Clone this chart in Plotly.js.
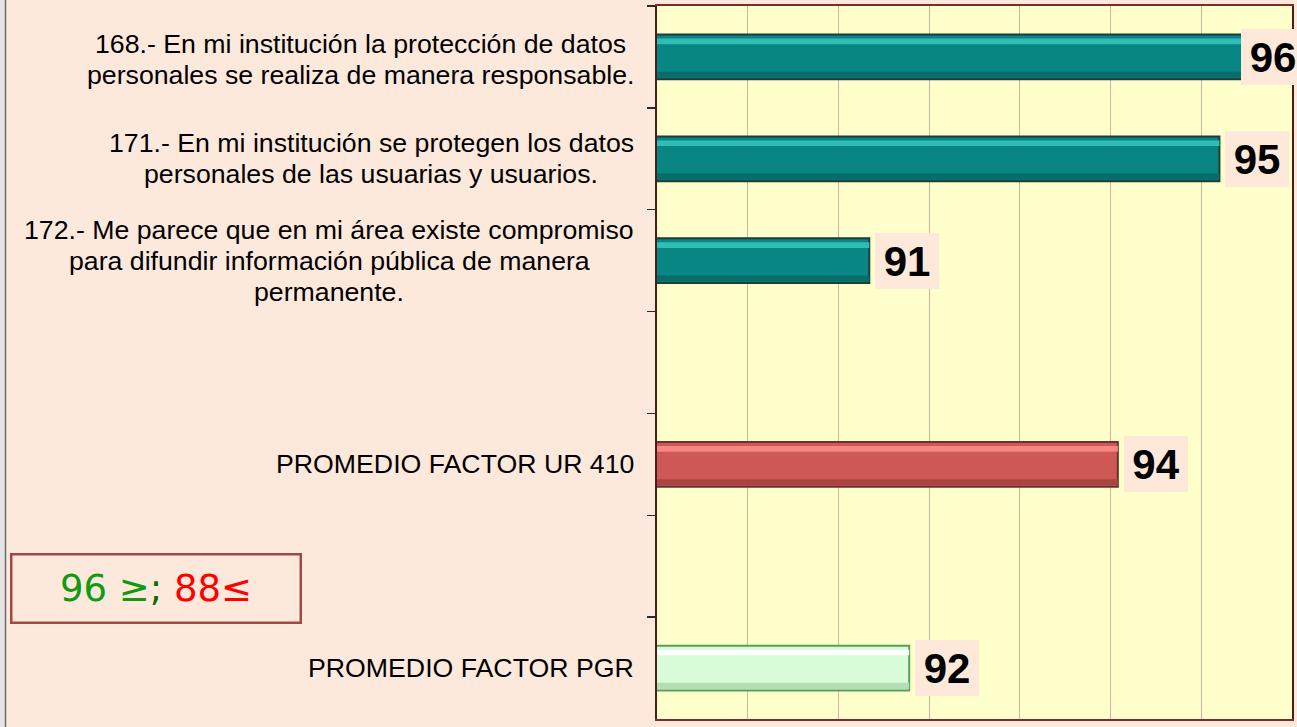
<!DOCTYPE html>
<html>
<head>
<meta charset="utf-8">
<script src="https://cdn.plot.ly/plotly-3.0.1.min.js"></script>
<style>
  html, body { margin: 0; padding: 0; background: #fde9dc; }
  #chart { width: 1297px; height: 727px; }
</style>
</head>
<body>
<div id="chart"></div>
<script>
// ---------------- data ----------------
const categories = [
  "168.- En mi institución la protección de datos<br>personales se realiza de manera responsable.",
  "171.- En mi institución se protegen los datos<br>personales de las usuarias y usuarios.",
  "172.- Me parece que en mi área existe compromiso<br>para difundir información pública de manera<br>permanente.",
  " ",
  "PROMEDIO FACTOR UR 410",
  "  ",
  "PROMEDIO FACTOR PGR"
];
const values = [95.55, 95.30, 91.44, null, 94.18, null, 91.88];
const legendGood = "96 ≥";
const legendSep = ";";
const legendBad = "88≤";

// ---------------- style ----------------
const W = 1297, H = 727;
const M = { l: 657, r: 5, t: 6, b: 8 };
const plotW = W - M.l - M.r, plotH = H - M.t - M.b;
const xRange = [89.1, 96.1];
const groupOf = ["teal", "teal", "teal", "teal", "red", "red", "green"];
const palette = {
  teal:  { main: "#078683", hi: "#2fbdb6", lo: "#066d6b", line: "#1f3b3a" },
  red:   { main: "#cd5855", hi: "#f68584", lo: "#a84442", line: "#6a3131" },
  green: { main: "#d8fbd8", hi: "#ffffff", lo: "#b4dfb4", line: "#5c9d5c" }
};
const barW = 0.44;
const labelFont = '"Liberation Sans", Arial, sans-serif';
const labelSize = 26.7;

function pick(key) { return groupOf.map(g => palette[g][key]); }

const traces = [
  { // main bar body
    type: "bar", orientation: "h", y: categories, x: values,
    width: barW, offset: -barW / 2,
    marker: { color: pick("main"), line: { color: pick("line"), width: 2 } },
    hoverinfo: "skip", showlegend: false
  },
  { // lower shade
    type: "bar", orientation: "h", y: categories, x: values,
    width: 0.06, offset: barW / 2 - 0.075,
    marker: { color: pick("lo"), line: { width: 0 } },
    hoverinfo: "skip", showlegend: false
  },
  { // upper highlight
    type: "bar", orientation: "h", y: categories, x: values,
    width: 0.055, offset: -barW / 2 + 0.04,
    marker: { color: pick("hi"), line: { width: 0 } },
    hoverinfo: "skip", showlegend: false
  }
];

// ---------------- annotations ----------------
const annotations = [];
const ctx = document.createElement("canvas").getContext("2d");
ctx.font = labelSize + 'px "Liberation Sans"';
const labelRight = 634;
const lineGap = 31;

categories.forEach((cat, i) => {
  if (!cat.trim()) return;
  const lines = cat.split("<br>");
  const blockW = Math.max(...lines.map(s => ctx.measureText(s).width));
  const cx = labelRight - blockW / 2;
  const n = lines.length;
  lines.forEach((ln, k) => {
    annotations.push({
      xref: "paper", yref: "y", x: (cx - M.l) / plotW, y: cat,
      xanchor: "center", yanchor: "middle",
      yshift: ((n - 1) / 2 - k) * lineGap + (i === 0 ? -3 : 0),
      text: ln, showarrow: false,
      font: { family: labelFont, size: labelSize, color: "#000000" }
    });
  });
});

// value labels
const boxW = 64, boxH = 56, gap = 6, chartEdge = 1305;
values.forEach((v, i) => {
  if (v === null) return;
  const endPx = M.l + (v - xRange[0]) / (xRange[1] - xRange[0]) * plotW;
  const shift = Math.min(gap, chartEdge - boxW - endPx);
  annotations.push({
    xref: "x", yref: "y", x: v, y: categories[i],
    xanchor: "left", yanchor: "middle", xshift: shift,
    text: "<b>" + Math.round(v) + "</b>", showarrow: false,
    width: boxW, height: boxH, borderpad: 0, borderwidth: 0,
    bgcolor: "#fde8da",
    font: { family: labelFont, size: 42, color: "#000000" }
  });
});

// threshold legend box
annotations.push({
  xref: "paper", yref: "paper",
  x: (156 - M.l) / plotW, y: (H - M.b - 588) / plotH,
  xanchor: "center", yanchor: "middle",
  width: 287, height: 66, borderpad: 0, borderwidth: 2.5,
  bordercolor: "#a34848", bgcolor: "#fde9dc",
  text: '<span style="color:#119a11">' + legendGood + '</span><span style="color:#0a6a0a">' + legendSep +
        '</span> <span style="color:#ff0000">' + legendBad + '</span>',
  showarrow: false,
  font: { family: '"DejaVu Sans", Verdana, sans-serif', size: 37 }
});

const shapes = [
  { type: "rect", xref: "paper", yref: "paper",
    x0: (0 - M.l) / plotW, x1: (5 - M.l) / plotW, y0: -M.b / plotH, y1: 1 + M.t / plotH,
    fillcolor: "#e4e4e4", line: { width: 0 } },
  { type: "line", xref: "paper", yref: "paper",
    x0: (5.5 - M.l) / plotW, x1: (5.5 - M.l) / plotW, y0: -M.b / plotH, y1: 1 + M.t / plotH,
    line: { color: "#6a6a6a", width: 1.5 } }
];

const layout = {
  width: W, height: H,
  margin: M,
  paper_bgcolor: "#fde9dc",
  plot_bgcolor: "#ffffcc",
  barmode: "overlay",
  showlegend: false,
  xaxis: {
    range: xRange, tick0: xRange[0], dtick: 1,
    showgrid: true, gridcolor: "#dfae9e", gridwidth: 1,
    zeroline: false, showticklabels: false, ticks: "",
    showline: true, linecolor: "#7a2e2e", linewidth: 2, mirror: true,
    fixedrange: true
  },
  yaxis: {
    type: "category", categoryorder: "array", categoryarray: categories,
    range: [categories.length - 0.5, -0.5],
    tickson: "boundaries", ticks: "outside", ticklen: 8, tickwidth: 1.5, tickcolor: "#2a2a2a",
    showticklabels: false, showgrid: false, zeroline: false,
    showline: true, linecolor: "#4a1d1d", linewidth: 2, mirror: true,
    fixedrange: true
  },
  annotations: annotations,
  shapes: shapes
};

Plotly.newPlot("chart", traces, layout, { displayModeBar: false, staticPlot: true });
</script>
</body>
</html>
